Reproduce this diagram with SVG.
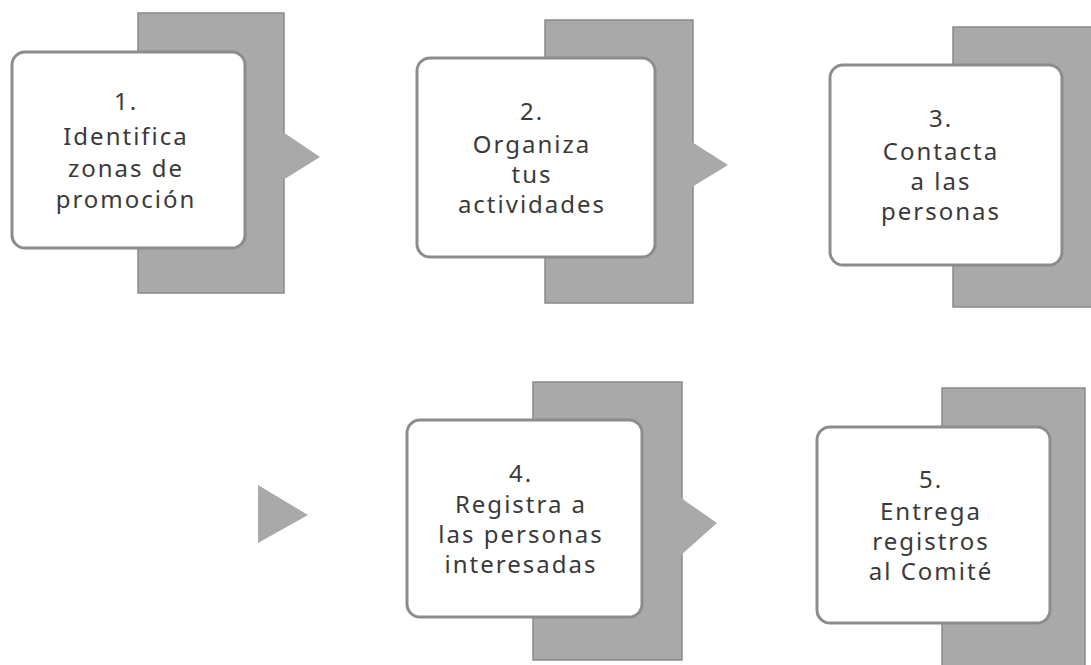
<svg xmlns="http://www.w3.org/2000/svg" width="1091" height="665" viewBox="0 0 1091 665">
<style>
.back{fill:#a9a9a9;stroke:#8a8a8a;stroke-width:1.5}
.card{fill:#ffffff;stroke:#8c8c8c;stroke-width:3}
.tab{fill:#a9a9a9;stroke:none}
.t{font-family:"Noto Sans","Open Sans",sans-serif;font-size:24px;letter-spacing:2px;fill:#3a3a3a;text-anchor:middle}
</style>
<rect width="1091" height="665" fill="#ffffff"/>
<g id="node1">
<rect class="back" x="138" y="13" width="146" height="280"/>
<rect class="card" x="12" y="52" width="233" height="196" rx="13"/>
<text class="t" x="126" y="110">1.</text>
<text class="t" x="126" y="145">Identifica</text>
<text class="t" x="126" y="177">zonas de</text>
<text class="t" x="126" y="208">promoción</text>
</g>
<g id="node2">
<rect class="back" x="545" y="20" width="148" height="283"/>
<rect class="card" x="417" y="58" width="238" height="199" rx="13"/>
<text class="t" x="532" y="120">2.</text>
<text class="t" x="532" y="153">Organiza</text>
<text class="t" x="532" y="183">tus</text>
<text class="t" x="532" y="213">actividades</text>
</g>
<g id="node3">
<rect class="back" x="953" y="27" width="145" height="280"/>
<rect class="card" x="830" y="65" width="232" height="200" rx="13"/>
<text class="t" x="941" y="127">3.</text>
<text class="t" x="941" y="160">Contacta</text>
<text class="t" x="941" y="190">a las</text>
<text class="t" x="941" y="220">personas</text>
</g>
<g id="node4">
<rect class="back" x="533" y="382" width="149" height="278"/>
<rect class="card" x="407" y="420" width="235" height="197" rx="13"/>
<text class="t" x="521" y="482">4.</text>
<text class="t" x="521" y="513">Registra a</text>
<text class="t" x="521" y="543">las personas</text>
<text class="t" x="521" y="573">interesadas</text>
</g>
<g id="node5">
<rect class="back" x="942" y="388" width="143" height="290"/>
<rect class="card" x="817" y="427" width="233" height="196" rx="13"/>
<text class="t" x="931" y="488">5.</text>
<text class="t" x="931" y="520">Entrega</text>
<text class="t" x="931" y="550">registros</text>
<text class="t" x="931" y="580">al Comité</text>
</g>
<g id="connectors">
<polygon class="tab" points="283,132 320,157 283,180"/>
<polygon class="tab" points="692,142 728,165 692,187"/>
<polygon class="tab" points="681,498 717,523 681,555"/>
<polygon class="tab" points="258,485 308,515 258,543"/>
</g>
</svg>
